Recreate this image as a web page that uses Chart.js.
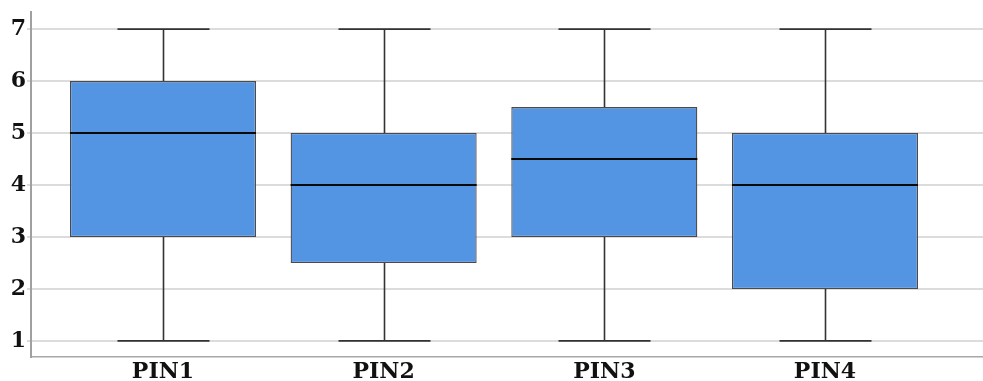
<!DOCTYPE html>
<html>
<head>
<meta charset="utf-8">
<script src="https://cdn.jsdelivr.net/npm/chart.js@4.4.0/dist/chart.umd.min.js"></script>
<style>
html,body{margin:0;padding:0;background:#fff;}
#wrap{width:983px;height:381px;position:relative;}
</style>
</head>
<body>
<div id="wrap"><canvas id="c" width="983" height="381"></canvas></div>
<script>
// ---- data ----
const categories = ['PIN1', 'PIN2', 'PIN3', 'PIN4'];
const minValues    = [1, 1, 1, 1];
const q1Values     = [3, 2.5, 3, 2];
const medianValues = [5, 4, 4.5, 4];
const q3Values     = [6, 5, 5.5, 5];
const maxValues    = [7, 7, 7, 7];
const yTickValues  = [1, 2, 3, 4, 5, 6, 7];
const yTickLabels  = ['1', '2', '3', '4', '5', '6', '7'];

const positions = categories.map((_, i) => i + 1);
const boxData = positions.map((p, i) => ({ x: p, y: [q1Values[i], q3Values[i]] }));

const FONT = "'DejaVu Serif', serif";

const boxPlugin = {
  id: 'boxWhiskers',
  afterDatasetsDraw(chart) {
    const ctx = chart.ctx;
    const xs = chart.scales.x, ys = chart.scales.y;
    const capHalf = (xs.getPixelForValue(1.2085) - xs.getPixelForValue(1));
    const meta = chart.getDatasetMeta(0);
    ctx.save();
    positions.forEach((p, i) => {
      const cx = Math.round(xs.getPixelForValue(p)) + 0.5;
      const yMin = ys.getPixelForValue(minValues[i]);
      const yQ1 = ys.getPixelForValue(q1Values[i]);
      const yMed = ys.getPixelForValue(medianValues[i]);
      const yQ3 = ys.getPixelForValue(q3Values[i]);
      const yMax = ys.getPixelForValue(maxValues[i]);
      ctx.strokeStyle = '#333';
      ctx.lineWidth = 1.6;
      ctx.beginPath();
      ctx.moveTo(cx, yQ3); ctx.lineTo(cx, yMax);
      ctx.moveTo(cx - capHalf, yMax); ctx.lineTo(cx + capHalf, yMax);
      ctx.moveTo(cx, yQ1); ctx.lineTo(cx, yMin);
      ctx.moveTo(cx - capHalf, yMin); ctx.lineTo(cx + capHalf, yMin);
      ctx.stroke();
      const bar = meta.data[i];
      const half = bar.width / 2;
      ctx.strokeStyle = '#0a0a0a';
      ctx.lineWidth = 2;
      ctx.beginPath();
      ctx.moveTo(bar.x - half, yMed); ctx.lineTo(bar.x + half, yMed);
      ctx.stroke();
    });
    ctx.restore();
  }
};

new Chart(document.getElementById('c'), {
  type: 'bar',
  data: {
    datasets: [{
      data: boxData,
      backgroundColor: '#5394e3',
      borderColor: '#4a4a4a',
      borderWidth: 1.3,
      borderSkipped: false,
      categoryPercentage: 1,
      barPercentage: 0.843
    }]
  },
  options: {
    responsive: false,
    animation: false,
    devicePixelRatio: 1,
    layout: { padding: { top: 12, right: 0, left: 0, bottom: 0 } },
    plugins: { legend: { display: false }, tooltip: { enabled: false } },
    scales: {
      x: {
        type: 'linear',
        offset: false,
        min: 0.402,
        max: 4.716,
        grid: { display: false, drawTicks: false, tickLength: 0 },
        border: { display: true, color: '#a8a8a8', width: 1.5 },
        afterBuildTicks(scale) { scale.ticks = positions.map(v => ({ value: v })); },
        afterFit(scale) { scale.height = 24; scale.paddingLeft = 0; scale.paddingRight = 0; },
        ticks: {
          autoSkip: false,
          maxRotation: 0,
          padding: 2,
          color: '#111',
          font: { family: FONT, size: 22, weight: 'bold' },
          callback: (v, i) => categories[i]
        }
      },
      y: {
        min: 0.69,
        max: 7.33,
        afterBuildTicks(scale) { scale.ticks = yTickValues.map(v => ({ value: v })); },
        afterFit(scale) { scale.width = 31; scale.paddingTop = 0; scale.paddingBottom = 0; },
        grid: { color: '#dcdcdc', lineWidth: 2, tickLength: 4, drawTicks: true },
        border: { display: true, color: '#a0a0a0', width: 2 },
        ticks: {
          padding: 1,
          color: '#111',
          font: { family: FONT, size: 22, weight: 'bold' },
          callback: (v, i) => yTickLabels[i]
        }
      }
    }
  },
  plugins: [boxPlugin]
});
</script>
</body>
</html>
